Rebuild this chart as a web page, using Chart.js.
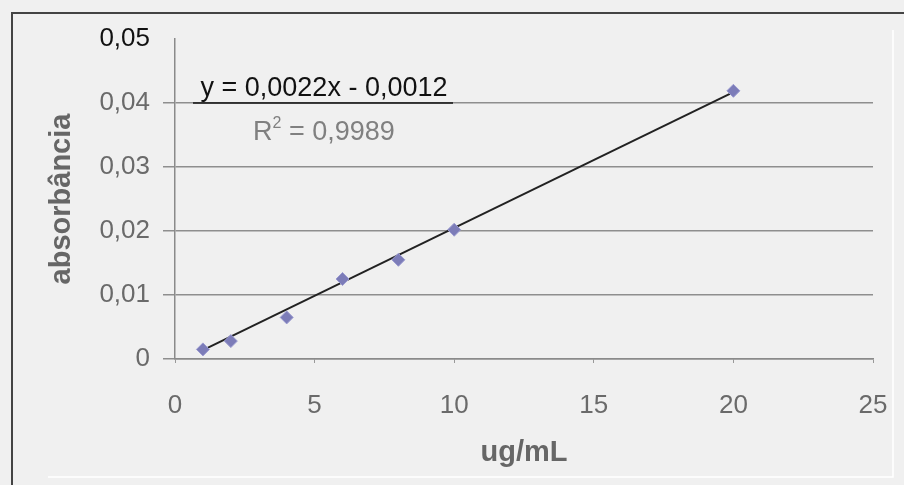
<!DOCTYPE html>
<html>
<head>
<meta charset="utf-8">
<script src="https://cdn.jsdelivr.net/npm/chart.js@4/dist/chart.umd.min.js"></script>
<style>
  html, body { margin: 0; padding: 0; background: #f0f0f0; }
  #wrap { width: 904px; height: 485px; }
</style>
</head>
<body>
<div id="wrap"><canvas id="curveChart" width="904" height="485"></canvas></div>
<script>
// concentrations (ug/mL) and measured absorbance
var concentrations = [1, 2, 4, 6, 8, 10, 20];
var absorbance = [0.0015, 0.0028, 0.0065, 0.0125, 0.0155, 0.0202, 0.0419];

// linear trendline end points
var trendX = [1, 20];
var trendY = [0.0014, 0.0417];

var yTickLabels = ['0', '0,01', '0,02', '0,03', '0,04', '0,05'];
var xTickLabels = ['0', '5', '10', '15', '20', '25'];

var equationText = 'y = 0,0022x - 0,0012';
var r2Text = '= 0,9989';

var frame = {
    id: 'frame',
    beforeDraw: function(chart) {
        var c = chart.ctx;
        c.save();
        c.fillStyle = '#f0f0f0';
        c.fillRect(0, 0, chart.width, chart.height);
        c.strokeStyle = '#ffffff';
        c.lineWidth = 1.5;
        c.beginPath();
        c.moveTo(48, 477);
        c.lineTo(893, 477);
        c.lineTo(893, 30);
        c.stroke();
        c.strokeStyle = '#444';
        c.lineWidth = 2;
        c.beginPath();
        c.moveTo(12, 485);
        c.lineTo(12, 13);
        c.lineTo(904, 13);
        c.stroke();
        c.restore();
    },
    afterDraw: function(chart) {
        var c = chart.ctx;
        c.save();
        c.textBaseline = 'alphabetic';
        c.textAlign = 'center';
        c.fillStyle = '#111';
        c.font = '27px "Liberation Sans", Arial, sans-serif';
        c.fillText(equationText, 324, 96);
        c.strokeStyle = '#111';
        c.lineWidth = 1.5;
        c.beginPath();
        c.moveTo(193, 103);
        c.lineTo(453, 103);
        c.stroke();
        // R squared
        c.fillStyle = '#808080';
        c.textAlign = 'left';
        c.font = '27px "Liberation Sans", Arial, sans-serif';
        c.fillText('R', 253, 140);
        var rw = c.measureText('R').width;
        c.font = '16px "Liberation Sans", Arial, sans-serif';
        c.fillText('2', 253 + rw, 128);
        var sw = c.measureText('2').width;
        c.font = '27px "Liberation Sans", Arial, sans-serif';
        c.fillText(' ' + r2Text, 253 + rw + sw, 140);
        c.restore();
    }
};

var ctx = document.getElementById('curveChart');
var myChart = new Chart(ctx, {
    type: 'scatter',
    data: {
        datasets: [{
            label: 'trend',
            type: 'line',
            data: trendX.map(function(x, i) { return {x: x, y: trendY[i]}; }),
            borderColor: '#222',
            borderWidth: 2,
            pointRadius: 0,
            fill: false,
            order: 1
        }, {
            label: 'absorbância',
            data: concentrations.map(function(x, i) { return {x: x, y: absorbance[i]}; }),
            pointStyle: 'rectRot',
            pointRadius: 6.5,
            backgroundColor: '#7c7cb8',
            borderColor: '#9a9ad0',
            borderWidth: 1,
            order: 0
        }]
    },
    options: {
        responsive: false,
        animation: false,
        layout: { padding: { left: 40, top: 39, right: 31, bottom: 15 } },
        plugins: { legend: { display: false }, tooltip: { enabled: false } },
        scales: {
            x: {
                type: 'linear',
                min: 0,
                max: 25,
                afterFit: function(s) {
                    s.height = 111;
                    s.paddingLeft = 0;
                    s.paddingRight = 0;
                },
                ticks: {
                    stepSize: 5,
                    padding: 27,
                    color: '#6a6a6a',
                    font: { family: '"Liberation Sans", Arial, sans-serif', size: 26 },
                    callback: function(v, i) { return xTickLabels[i]; }
                },
                grid: { drawOnChartArea: false, color: '#999', tickLength: 4 },
                border: { color: '#8a8a8a', width: 1.5 },
                title: {
                    display: true,
                    text: 'ug/mL',
                    color: '#666',
                    padding: { top: 0, bottom: 0 },
                    font: { family: '"Liberation Sans", Arial, sans-serif', size: 29, weight: 'bold' }
                }
            },
            y: {
                min: 0,
                max: 0.05,
                afterFit: function(s) { s.width = 135; },
                ticks: {
                    stepSize: 0.01,
                    padding: 13,
                    color: function(c) { return c.index === 5 ? '#111' : '#6a6a6a'; },
                    font: { family: '"Liberation Sans", Arial, sans-serif', size: 26 },
                    callback: function(v, i) { return yTickLabels[i]; }
                },
                grid: {
                    color: function(c) { return c.index === 5 ? 'rgba(0,0,0,0)' : '#8e8e8e'; },
                    lineWidth: 1.5,
                    tickLength: 12
                },
                border: { color: '#8a8a8a', width: 1.5 },
                title: {
                    display: true,
                    text: 'absorbância',
                    color: '#666',
                    padding: { top: 5, bottom: 0 },
                    font: { family: '"Liberation Sans", Arial, sans-serif', size: 29, weight: 'bold' }
                }
            }
        }
    },
    plugins: [frame]
});
</script>
</body>
</html>
